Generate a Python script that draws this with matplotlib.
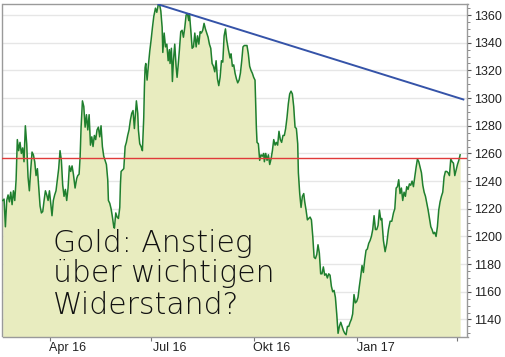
import matplotlib
matplotlib.use("Agg")
import matplotlib.pyplot as plt
import matplotlib.dates as mdates
from matplotlib.ticker import MultipleLocator, FixedLocator
import pandas as pd

# ---------------- data ----------------
start_date = "2016-02-18"
day_offset = [
    0.6, 1.8, 3.0, 4.2, 5.4, 6.6, 7.8, 9.0, 10.2, 11.4, 12.6, 13.7, 14.9, 16.1, 17.3, 18.5, 19.7,
    20.9, 22.1, 23.3, 24.5, 25.7, 26.9, 28.1, 29.3, 30.5, 31.7, 32.9, 34.1, 35.3, 36.5, 37.7, 38.9,
    40.1, 41.3, 42.5, 43.6, 44.8, 46.0, 47.2, 48.4, 49.6, 50.8, 52.0, 53.2, 54.4, 55.6, 56.8, 58.0,
    59.2, 60.4, 61.6, 62.8, 64.0,
    65.5, 67.0, 67.9, 69.1, 70.0, 70.9, 72.1, 73.3, 74.5, 75.7, 76.9, 78.1, 79.3, 80.5, 81.6, 82.8,
    84.0, 85.2, 86.4, 87.6, 88.8, 90.0, 91.2, 92.4, 93.6, 94.8, 95.4, 96.6, 97.8, 99.0, 100.2, 100.8,
    102.0, 103.2, 104.4, 105.6, 106.2, 106.8, 108.0, 109.2, 110.4, 111.5, 112.7, 113.9, 115.1, 116.3,
    117.5, 118.7, 119.9, 120.5, 121.7, 122.3, 123.5, 124.7, 125.9, 127.1, 127.7, 128.3, 128.9, 130.1,
    131.3, 132.5, 133.7, 134.9, 136.1,
    137.6, 138.8, 140.0, 141.2, 142.4, 143.6, 144.2, 145.4, 146.6, 147.8, 149.0, 150.1, 150.7, 151.9,
    152.8, 153.7, 154.9, 156.1, 157.0, 157.9, 159.1, 160.3, 161.5, 162.7, 163.9, 165.1, 166.3, 167.5,
    168.1, 169.3, 170.5, 171.7, 172.9, 174.1, 175.3, 176.5, 177.7, 178.8, 180.0, 181.2, 182.4, 183.6,
    184.8, 186.0, 187.2, 188.4, 189.6, 190.8, 192.0, 193.2, 194.4, 195.6, 196.8, 198.0, 199.2, 200.4,
    201.5, 203.0, 204.5, 205.4, 206.6, 207.8, 209.0, 210.2, 211.4, 212.6, 213.8, 215.0, 216.1, 217.3,
    218.5, 219.7, 220.9, 222.1, 223.3, 224.5, 225.7, 226.9, 227.5, 228.1, 228.7, 229.9, 231.1, 232.3,
    233.5, 234.7, 235.3, 236.5, 237.7, 238.9, 240.1, 241.3, 242.5, 243.7, 244.9, 246.0, 247.2, 248.4,
    249.6, 250.8, 252.0, 253.2, 254.4, 255.6, 256.8, 258.0, 259.2, 260.4, 261.6, 262.8, 264.0, 265.2,
    265.8, 267.0, 268.2, 269.4, 270.6,
    271.5, 272.7, 273.9, 275.1, 276.3, 277.5, 278.7, 279.9, 281.1, 282.3, 283.4, 284.6, 285.8, 287.0,
    288.2, 289.4, 290.6, 291.8, 293.0, 294.2, 295.4, 296.6, 297.8, 299.0, 300.2, 301.4, 302.6, 303.8,
    305.0, 306.2, 307.4, 308.6, 309.8, 311.0, 312.2, 313.3, 314.5, 315.7, 316.9, 318.1, 319.3, 320.5,
    321.7, 322.9, 324.1, 325.3, 326.5, 327.7, 328.9, 330.1, 331.3, 332.5, 333.7, 334.9, 336.1, 337.3,
    338.5, 339.7,
    340.6, 342.1, 343.6, 345.1, 346.6, 348.1, 349.6, 351.1, 352.3, 353.5, 354.7, 355.8, 357.0, 358.2,
    359.4, 360.6, 361.8, 363.0, 364.2, 365.4, 366.6, 367.8, 369.0, 370.2, 371.4, 372.6, 373.8, 375.0,
    376.2, 377.4, 378.6, 379.8, 381.0, 382.2, 383.4, 384.6, 385.7, 386.9, 388.1, 389.3, 390.5, 391.7,
    392.9, 394.1, 395.3, 396.5, 397.7, 398.9, 400.1, 401.3, 402.5, 403.7, 404.9, 406.1, 407.3, 408.5,
    409.7, 410.9,
]
price = [
    1226, 1227, 1207, 1226, 1230, 1225, 1232, 1223, 1233, 1226, 1241, 1270, 1262, 1268, 1260, 1264, 1254,
    1280, 1267, 1243, 1233, 1248, 1261, 1259, 1254, 1244, 1249, 1235, 1222, 1217, 1218, 1226, 1233,
    1230, 1226, 1233, 1224, 1215, 1226, 1230, 1233, 1241, 1249, 1262, 1255, 1237, 1229, 1234, 1226,
    1235, 1251, 1247, 1251, 1245,
    1235, 1242, 1244, 1245, 1257, 1279, 1298, 1294, 1279, 1288, 1277, 1288, 1266, 1272, 1265, 1273,
    1270, 1277, 1279, 1272, 1280, 1265, 1258, 1255, 1252, 1241, 1226, 1224, 1220, 1214, 1207, 1206,
    1217, 1214, 1213, 1221, 1238, 1247, 1248, 1249, 1265, 1268, 1273, 1277, 1284, 1289,
    1291, 1278, 1291, 1298, 1289, 1277, 1267, 1265, 1262, 1286, 1308, 1322, 1325, 1313,
    1324, 1334, 1342, 1351, 1359,
    1365, 1362, 1367, 1368, 1363, 1351, 1333, 1347, 1337, 1339, 1327, 1335, 1325, 1336,
    1312, 1327, 1339, 1323, 1315, 1323, 1335, 1348, 1349, 1344, 1351, 1360, 1361, 1356,
    1361, 1349, 1336, 1337, 1347, 1337, 1345, 1339, 1348, 1347, 1349, 1354, 1350, 1347,
    1344, 1339, 1336, 1325, 1323, 1319, 1327, 1314, 1309, 1315, 1327, 1326, 1345, 1350,
    1342, 1335, 1329, 1332, 1323, 1324, 1318, 1314, 1311, 1313, 1318, 1327, 1337, 1338,
    1338, 1338, 1332, 1323, 1320, 1318, 1315, 1313, 1296, 1279, 1268, 1267, 1255, 1259,
    1258, 1260, 1254, 1260, 1255, 1259, 1252, 1256, 1262, 1270, 1266, 1268, 1266, 1276,
    1270, 1268, 1273, 1273, 1278, 1286, 1296, 1303, 1305, 1303, 1294, 1279, 1278, 1267,
    1246, 1231, 1221, 1229, 1231,
    1225, 1219, 1212, 1213, 1214, 1212, 1200, 1185, 1184, 1187, 1194, 1188, 1173, 1173,
    1178, 1172, 1173, 1170, 1173, 1172, 1164, 1160, 1161, 1156, 1144, 1130, 1135, 1138,
    1135, 1132, 1130, 1129, 1135, 1135, 1138, 1140, 1144, 1158, 1152, 1153, 1156, 1164,
    1171, 1179, 1174, 1183, 1190, 1191, 1195, 1197, 1200, 1205, 1215, 1205, 1205, 1208,
    1219, 1212,
    1213, 1197, 1189, 1195, 1205, 1211, 1211, 1217, 1220, 1235, 1236, 1241, 1231, 1235,
    1226, 1232, 1229, 1236, 1234, 1238, 1237, 1240, 1236, 1243, 1250, 1256, 1254, 1250,
    1246, 1237, 1232, 1229, 1224, 1219, 1213, 1207, 1205, 1202, 1203, 1200, 1207, 1219,
    1225, 1229, 1232, 1243, 1247, 1247, 1246, 1244, 1256, 1254, 1253, 1244, 1248, 1252,
    1255, 1259,
]
resistance_level = 1257
trend_days = [140.2, 413.8]
trend_price = [1367.7, 1299.0]
y_ticks = [1140, 1160, 1180, 1200, 1220, 1240, 1260, 1280, 1300, 1320, 1340, 1360]
x_tick_dates = ["2016-04-01", "2016-07-01", "2016-10-01", "2017-01-01", "2017-04-01"]
x_label_dates = ["2016-04-17", "2016-07-17", "2016-10-17", "2017-01-18"]
x_label_text = ["Apr 16", "Jul 16", "Okt 16", "Jan 17"]
note_lines = ["Gold: Anstieg", "über wichtigen", "Widerstand?"]

# ---------------- plot ----------------
t0 = pd.Timestamp(start_date)
dates = mdates.date2num((t0 + pd.to_timedelta(day_offset, unit="D")).to_pydatetime())
tdates = mdates.date2num((t0 + pd.to_timedelta(trend_days, unit="D")).to_pydatetime())
x_left = mdates.date2num((t0 + pd.Timedelta(days=0.4)).to_pydatetime())
x_right = mdates.date2num((t0 + pd.Timedelta(days=417.5)).to_pydatetime())
y_bottom, y_top = 1127.7, 1368.0

fig = plt.figure(figsize=(5.06, 3.57), dpi=100)
ax = fig.add_axes([2.5 / 506, (357 - 336.5) / 357, 465 / 506, 332.5 / 357])

ax.fill_between(dates, price, y_bottom, color="#e8ecbf", lw=0, zorder=2)
ax.plot(dates, price, color="#1f7f2e", lw=1.1, zorder=3)
ax.axhline(resistance_level, color="#e03a3a", lw=1.0, zorder=4)
ax.plot(tdates, trend_price, color="#3553a8", lw=1.4, zorder=4)

ax.set_xlim(x_left, x_right)
ax.set_ylim(y_bottom, y_top)

ax.yaxis.tick_right()
ax.set_yticks(y_ticks)
ax.yaxis.set_minor_locator(MultipleLocator(5))
ax.tick_params(axis="y", which="major", length=3, width=0.8, pad=2, labelsize=9,
               colors="#555555", labelcolor="#222222")
ax.tick_params(axis="y", which="minor", length=2, width=0.6, colors="#777777")
ax.grid(axis="y", which="major", color="#e6e6e6", lw=1.0, zorder=0)
ax.set_axisbelow(True)

ax.xaxis.set_major_locator(FixedLocator(mdates.date2num(pd.to_datetime(x_tick_dates).to_pydatetime())))
ax.xaxis.set_major_formatter(plt.NullFormatter())
ax.set_xticks(mdates.date2num(pd.to_datetime(x_label_dates).to_pydatetime()), minor=True)
ax.set_xticklabels(x_label_text, minor=True)
ax.tick_params(axis="x", which="major", length=3, width=0.8, colors="#777777")
ax.tick_params(axis="x", which="minor", length=0, pad=4, labelsize=9, labelcolor="#222222")

for lab in ax.get_xticklabels(minor=True) + ax.get_yticklabels():
    lab.set_family(["Liberation Sans", "DejaVu Sans"])

for s in ax.spines.values():
    s.set_color("#9a9a9a")
    s.set_linewidth(1.0)

baselines_px = [251.7, 282.3, 314.0]
for txt, by in zip(note_lines, baselines_px):
    fig.text(53 / 506, 1 - by / 357, txt, fontsize=21.5, va="baseline", ha="left",
             family=["DejaVu Sans"], weight="light",
             color="#111111", zorder=10)

fig.savefig("out.png", dpi=100)
